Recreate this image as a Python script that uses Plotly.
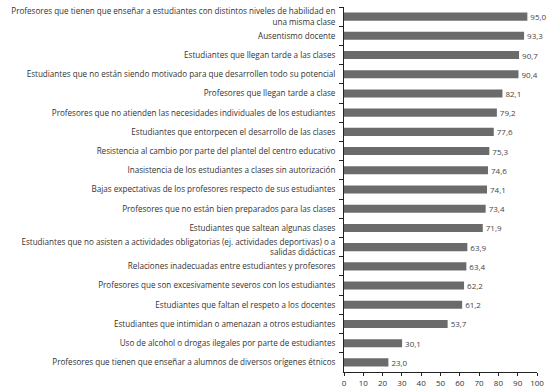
import plotly.graph_objects as go

categories = [
    "Profesores que tienen que enseñar a estudiantes con distintos niveles de habilidad en<br>una misma clase",
    "Ausentismo docente",
    "Estudiantes que llegan tarde a las clases",
    "Estudiantes que no están siendo motivado para que desarrollen todo su potencial",
    "Profesores que llegan tarde a clase",
    "Profesores que no atienden las necesidades individuales de los estudiantes",
    "Estudiantes que entorpecen el desarrollo de las clases",
    "Resistencia al cambio por parte del plantel del centro educativo",
    "Inasistencia de los estudiantes a clases sin autorización",
    "Bajas expectativas de los profesores respecto de sus estudiantes",
    "Profesores que no están bien preparados para las clases",
    "Estudiantes que saltean algunas clases",
    "Estudiantes que no asisten a actividades obligatorias (ej. actividades deportivas) o a<br>salidas didácticas",
    "Relaciones inadecuadas entre estudiantes y profesores",
    "Profesores que son excesivamente severos con los estudiantes",
    "Estudiantes que faltan el respeto a los docentes",
    "Estudiantes que intimidan o amenazan a otros estudiantes",
    "Uso de alcohol o drogas ilegales por parte de estudiantes",
    "Profesores que tienen que enseñar a alumnos de diversos orígenes étnicos",
]
values = [95.0, 93.3, 90.7, 90.4, 82.1, 79.2, 77.6, 75.3, 74.6, 74.1,
          73.4, 71.9, 63.9, 63.4, 62.2, 61.2, 53.7, 30.1, 23.0]
x_ticks = [0, 10, 20, 30, 40, 50, 60, 70, 80, 90, 100]

fig = go.Figure(go.Bar(
    x=values, y=categories, orientation="h",
    marker=dict(color="#6b6b6b", line=dict(width=0)),
    width=0.42,
    text=values, texttemplate="%{x:.1f}", textposition="outside",
    constraintext="none",
    textfont=dict(family="Open Sans", size=8, color="#444444"),
    cliponaxis=False,
))

fig.update_layout(
    width=553, height=387,
    margin=dict(l=344, r=16, t=7, b=15),
    paper_bgcolor="white", plot_bgcolor="white",
    separators=",.",
    showlegend=False,
    font=dict(family="Open Sans", size=8.1, color="#333333"),
)
fig.update_yaxes(
    autorange="reversed", automargin=False,
    showline=True, linecolor="#222222", linewidth=1,
    ticks="outside", ticklen=4, tickcolor="#222222", tickson="boundaries",
    ticklabelstandoff=6,
    showgrid=False, tickfont=dict(size=8.1, color="#333333"),
)
fig.update_xaxes(
    range=[0, 100], tickvals=x_ticks, automargin=False,
    showline=True, linecolor="#222222", linewidth=1,
    ticks="outside", ticklen=3, tickcolor="#222222",
    showgrid=False, zeroline=False,
    tickfont=dict(size=8, color="#333333"),
)

fig.write_html("out.html", config={"displayModeBar": False},
               post_script="document.body.style.margin='0';")
